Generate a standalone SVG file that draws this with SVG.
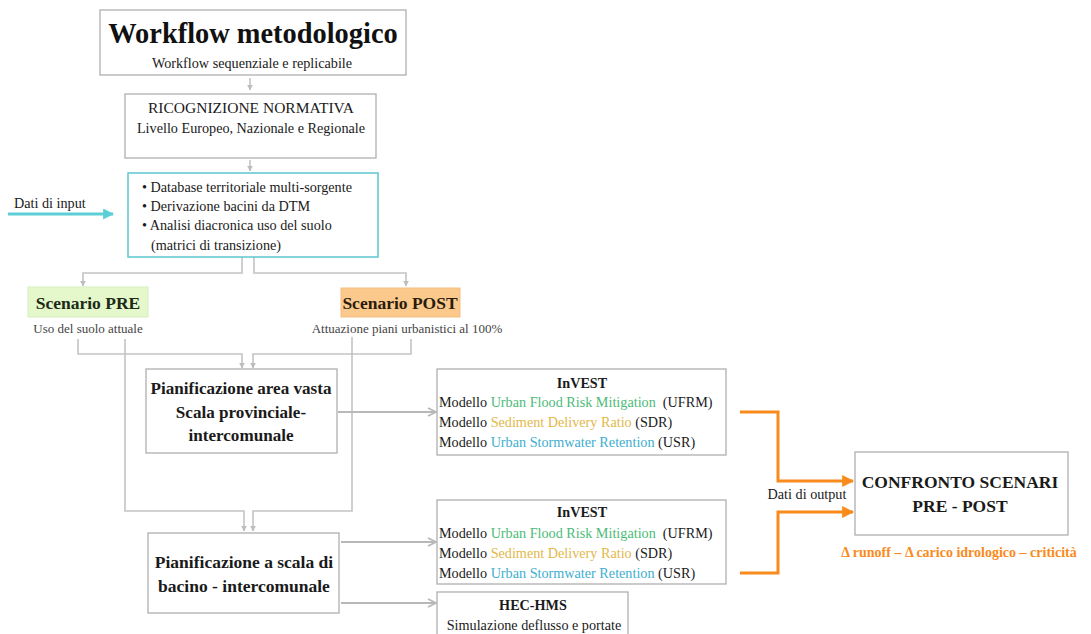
<svg xmlns="http://www.w3.org/2000/svg" width="1091" height="634" viewBox="0 0 1091 634">
<defs>
<style>
.box{fill:#fff;stroke:#b0b0b0;stroke-width:1.3}
text{font-family:"Liberation Serif","Times New Roman",serif;fill:#1a1a1a}
.b{font-weight:bold}
.c{text-anchor:middle}
.con{fill:none;stroke:#c4c4c4;stroke-width:1.6}
.con2{fill:none;stroke:#b8b8b8;stroke-width:2}
.or{fill:none;stroke:#f98a1c;stroke-width:3}
.g{fill:#4cbb78}.y{fill:#e2b84a}.bl{fill:#3eaed0}
.grey{fill:#444}
.orange{fill:#f98a1c}
.pre{fill:#1c2a16}.post{fill:#2a1c0c}
.m{font-size:14.2px}
</style>
<marker id="ag" viewBox="0 0 10 10" refX="9" refY="5" markerWidth="6" markerHeight="6" orient="auto" markerUnits="userSpaceOnUse"><path d="M0,0 L10,5 L0,10 z" fill="#bdbdbd"/></marker>
<marker id="ag2" viewBox="0 0 10 10" refX="9" refY="5" markerWidth="10" markerHeight="10" orient="auto" markerUnits="userSpaceOnUse"><path d="M1,1 L9,5 L1,9" fill="none" stroke="#b8b8b8" stroke-width="1.8"/></marker>
<marker id="ao" viewBox="0 0 10 10" refX="9" refY="5" markerWidth="12" markerHeight="12" orient="auto" markerUnits="userSpaceOnUse"><path d="M0,0 L10,5 L0,10 z" fill="#f98a1c"/></marker>
<marker id="ac" viewBox="0 0 10 10" refX="9" refY="5" markerWidth="11" markerHeight="11" orient="auto" markerUnits="userSpaceOnUse"><path d="M0,0 L10,5 L0,10 z" fill="#5ccfd6"/></marker>
</defs>
<rect width="1091" height="634" fill="#fff"/>

<g id="connectors">
<path class="con" d="M250,78 V90" marker-end="url(#ag)"/>
<path class="con" d="M250,160 V171" marker-end="url(#ag)"/>
<path d="M8,214 H113" stroke="#5ccfd6" stroke-width="3" fill="none" marker-end="url(#ac)"/>
<path class="con" d="M242,257 V273 H83 V286" marker-end="url(#ag)"/>
<path class="con" d="M254,257 V273 H406 V286" marker-end="url(#ag)"/>
<path class="con" d="M78,339 V354 H242 V368" marker-end="url(#ag)"/>
<path class="con" d="M411,339 V354 H253 V368" marker-end="url(#ag)"/>
<path class="con" d="M125,339 V511 H244 V531" marker-end="url(#ag)"/>
<path class="con" d="M352,337 V511 H253 V531" marker-end="url(#ag)"/>
<path class="con2" d="M338,412 H436" marker-end="url(#ag2)"/>
<path class="con2" d="M341,542 H436" marker-end="url(#ag2)"/>
<path class="con2" d="M341,603 H436" marker-end="url(#ag2)"/>
<path class="or" d="M740,412 H778 V481 H853" marker-end="url(#ao)"/>
<path class="or" d="M740,573 H778 V512 H853" marker-end="url(#ao)"/>
<text class="m" x="14" y="208">Dati di input</text>
<text class="c m" x="807" y="499">Dati di output</text>
</g>

<g id="title">
<rect class="box" x="100" y="10" width="306" height="65"/>
<text class="b c" x="253" y="43" font-size="28.4" style="fill:#111">Workflow metodologico</text>
<text class="c m" x="252" y="68">Workflow sequenziale e replicabile</text>
</g>

<g id="ricognizione">
<rect class="box" x="125" y="94" width="251" height="64"/>
<text class="c" x="251" y="113" font-size="15.5">RICOGNIZIONE NORMATIVA</text>
<text class="c m" x="251" y="133">Livello Europeo, Nazionale e Regionale</text>
</g>

<g id="database">
<rect x="128" y="173" width="250" height="84" fill="#fff" stroke="#5cc6d0" stroke-width="1.5"/>
<text class="m"><tspan x="142" y="192">• Database territoriale multi-sorgente</tspan><tspan x="142" y="211">• Derivazione bacini da DTM</tspan><tspan x="142" y="230">• Analisi diacronica uso del suolo</tspan><tspan x="151" y="250">(matrici di transizione)</tspan></text>
</g>

<g id="scenario-pre">
<rect x="28" y="287" width="120" height="30" fill="#e4f8cc" stroke="#d6efbd" stroke-width="1"/>
<text class="b c pre" x="88" y="309" font-size="17.5">Scenario PRE</text>
<text class="c grey" x="88" y="333" font-size="13">Uso del suolo attuale</text>
</g>

<g id="scenario-post">
<rect x="341" y="288" width="119" height="29" fill="#fbc98c" stroke="#f3bd80" stroke-width="1"/>
<text class="b c post" x="400" y="309" font-size="17.5">Scenario POST</text>
<text class="c grey" x="407" y="333" font-size="13">Attuazione piani urbanistici al 100%</text>
</g>

<g id="pian-area-vasta">
<rect class="box" x="146" y="369" width="191" height="84"/>
<text class="b c" x="241" y="394" font-size="17.1">Pianificazione area vasta</text>
<text class="b c" x="241" y="418" font-size="17.1">Scala provinciale-</text>
<text class="b c" x="241" y="441" font-size="17.1">intercomunale</text>
</g>

<g id="pian-bacino">
<rect class="box" x="148" y="533" width="191" height="80"/>
<text class="b c" x="244" y="568" font-size="17.5">Pianificazione a scala di</text>
<text class="b c" x="244" y="592" font-size="17.5">bacino - intercomunale</text>
</g>

<g id="invest-1">
<rect class="box" x="437" y="369" width="289" height="86"/>
<text class="b c m" x="582" y="388">InVEST</text>
<text class="m" x="439" y="407">Modello <tspan class="g">Urban Flood Risk Mitigation</tspan>&#160; (UFRM)</text>
<text class="m" x="439" y="427">Modello <tspan class="y">Sediment Delivery Ratio</tspan> (SDR)</text>
<text class="m" x="439" y="447">Modello <tspan class="bl">Urban Stormwater Retention</tspan> (USR)</text>
</g>

<g id="invest-2">
<rect class="box" x="437" y="500" width="289" height="84"/>
<text class="b c m" x="582" y="517">InVEST</text>
<text class="m" x="439" y="538">Modello <tspan class="g">Urban Flood Risk Mitigation</tspan>&#160; (UFRM)</text>
<text class="m" x="439" y="558">Modello <tspan class="y">Sediment Delivery Ratio</tspan> (SDR)</text>
<text class="m" x="439" y="578">Modello <tspan class="bl">Urban Stormwater Retention</tspan> (USR)</text>
</g>

<g id="hec-hms">
<rect class="box" x="437" y="592" width="191" height="50"/>
<text class="b c m" x="533" y="610">HEC-HMS</text>
<text class="c m" x="534" y="630">Simulazione deflusso e portate</text>
</g>

<g id="confronto">
<rect class="box" x="855" y="452" width="213" height="83"/>
<text class="b c" x="960" y="488" font-size="17.5">CONFRONTO SCENARI</text>
<text class="b c" x="960" y="512" font-size="17.5">PRE - POST</text>
<text class="b c orange" x="959" y="557" font-size="14">Δ runoff – Δ carico idrologico – criticità</text>
</g>
</svg>
